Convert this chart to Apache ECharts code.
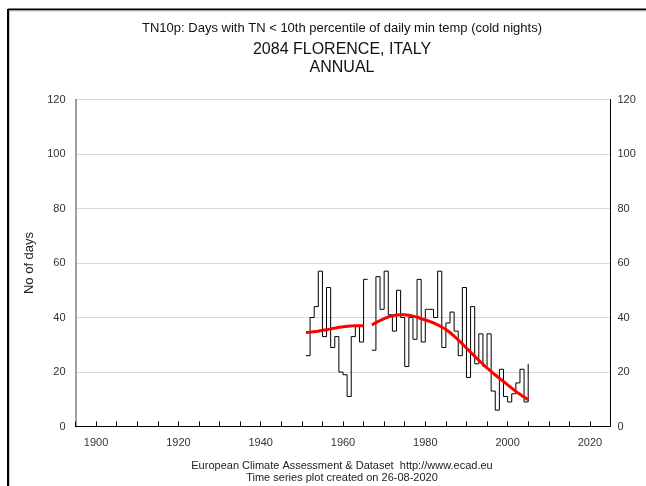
<!DOCTYPE html>
<html>
<head>
<meta charset="utf-8">
<script src="https://cdn.jsdelivr.net/npm/echarts@6/dist/echarts.min.js"></script>
<style>
html,body{margin:0;padding:0;background:#fff;}
#chart{width:646px;height:486px;}
</style>
</head>
<body>
<div id="chart"></div>
<script>
// ---- data ----
const years = [1951,1952,1953,1954,1955,1956,1957,1958,1959,1960,1961,1962,1963,1964,1965,1966,
  1967,1968,1969,1970,1971,1972,1973,1974,1975,1976,1977,1978,1979,1980,1981,1982,1983,1984,1985,1986,
  1987,1988,1989,1990,1991,1992,1993,1994,1995,1996,1997,1998,1999,2000,2001,2002,2003,2004,2005];
const tn10p = [26,40,44,57,33,51,29,33,20,19,11,33,37,31,54,null,
  28,55,43,57,41,35,50,40,22,40,32,54,31,43,43,40,57,29,38,42,
  35,26,51,18,44,23,34,22,34,13,6,21,11,9,12,16,21,9,23];
const smoothed = [34.5,34.6,34.8,35.0,35.3,35.5,35.8,36.1,36.4,36.6,36.8,36.9,37.0,37.0,37.0,null,
  37.3,38.1,38.9,39.6,40.2,40.6,40.9,41.0,41.0,40.8,40.5,40.1,39.6,39.1,38.6,38.0,37.3,36.5,35.6,34.5,
  33.2,31.8,30.3,28.8,27.3,25.8,24.3,22.9,21.5,20.2,18.9,17.7,16.5,15.3,14.1,12.9,11.8,10.8,9.8];
const titleLines = ['TN10p: Days with TN < 10th percentile of daily min temp (cold nights)', '2084 FLORENCE, ITALY', 'ANNUAL'];
const footerLines = ['European Climate Assessment & Dataset  http://www.ecad.eu', 'Time series plot created on 26-08-2020'];
const yTicks = [0,20,40,60,80,100,120];
const xLabelYears = [1900,1920,1940,1960,1980,2000,2020];

const FONT = '"Liberation Sans", Arial, sans-serif';
const stepData = years.map((y,i) => [y, tn10p[i] === null ? '-' : tn10p[i]]);
const smoothData = years.map((y,i) => [y, smoothed[i] === null ? '-' : smoothed[i]]);

const chart = echarts.init(document.getElementById('chart'), null, {renderer:'canvas'});
chart.setOption({
  animation:false,
  backgroundColor:'#fff',
  grid:{left:75.5, right:35.5, top:99.5, bottom:59.5, containLabel:false},
  xAxis:[{
    type:'value', min:1895, max:2025, interval:5, position:'bottom',
    axisLine:{show:true, lineStyle:{color:'#000', width:1}},
    axisTick:{show:true, inside:true, length:5, lineStyle:{color:'#000'}},
    axisLabel:{show:true, margin:11, color:'#333', fontFamily:FONT, fontSize:11,
      formatter:v => xLabelYears.indexOf(v) >= 0 ? String(v) : '', showMinLabel:true, showMaxLabel:true},
    splitLine:{show:false}
  },{
    type:'value', min:1895, max:2025, position:'top',
    axisLine:{show:true, lineStyle:{color:'#000', width:1}},
    axisTick:{show:false}, axisLabel:{show:false}, splitLine:{show:false}
  }],
  yAxis:[{
    type:'value', min:0, max:120, interval:20, position:'left',
    name:'No of days', nameLocation:'middle', nameGap:39,
    nameTextStyle:{color:'#222', fontFamily:FONT, fontSize:13},
    axisLine:{show:true, lineStyle:{color:'#808080', width:1.5}},
    axisTick:{show:false},
    axisLabel:{margin:10, color:'#333', fontFamily:FONT, fontSize:11,
      formatter:v => yTicks.indexOf(v) >= 0 ? String(v) : ''},
    splitLine:{show:true, lineStyle:{color:'#d8d8d8', width:1}}
  },{
    type:'value', min:0, max:120, interval:20, position:'right',
    axisLine:{show:true, lineStyle:{color:'#000', width:1}},
    axisTick:{show:false},
    axisLabel:{margin:7, color:'#333', fontFamily:FONT, fontSize:11},
    splitLine:{show:false}
  }],
  series:[{
    type:'line', name:'TN10p', data:stepData, step:'end', connectNulls:false,
    showSymbol:false, symbol:'none',
    lineStyle:{color:'#000', width:1}, z:3
  },{
    type:'line', name:'smooth', data:smoothData, connectNulls:false, smooth:0.2,
    showSymbol:false, symbol:'none',
    lineStyle:{color:'#ff0000', width:3}, z:4
  }],
  graphic:[
    {type:'line', shape:{x1:8, y1:9.5, x2:646, y2:9.5}, style:{stroke:'#000', lineWidth:2}, silent:true},
    {type:'line', shape:{x1:8, y1:9, x2:8, y2:486}, style:{stroke:'#000', lineWidth:2}, silent:true},
    {type:'line', shape:{x1:9.5, y1:11, x2:9.5, y2:486}, style:{stroke:'#c8c8c8', lineWidth:1}, silent:true},
    {type:'line', shape:{x1:9.5, y1:11, x2:646, y2:11}, style:{stroke:'#c8c8c8', lineWidth:1}, silent:true},
    {type:'text', x:342, y:28, style:{text:titleLines[0], align:'center', verticalAlign:'middle', fill:'#111', font:'13px ' + FONT}},
    {type:'text', x:342, y:50, style:{text:titleLines[1], align:'center', verticalAlign:'middle', fill:'#111', font:'16px ' + FONT}},
    {type:'text', x:342, y:68, style:{text:titleLines[2], align:'center', verticalAlign:'middle', fill:'#111', font:'16px ' + FONT}},
    {type:'text', x:342, y:466, style:{text:footerLines[0], align:'center', verticalAlign:'middle', fill:'#222', font:'11px ' + FONT}},
    {type:'text', x:342, y:478, style:{text:footerLines[1], align:'center', verticalAlign:'middle', fill:'#222', font:'11px ' + FONT}}
  ]
});
</script>
</body>
</html>
